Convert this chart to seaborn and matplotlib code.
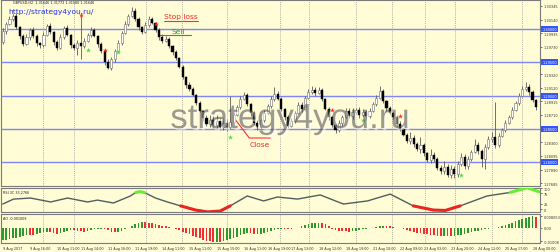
import numpy as np
import pandas as pd
import matplotlib
matplotlib.use("Agg")
import matplotlib.pyplot as plt
import seaborn as sns
from matplotlib import patheffects as pe

sns.set_theme(style="white")
plt.rcParams['font.family'] = ['DejaVu Sans']

# ---------------- data ----------------
first_open = 1.29805
closes = [
    1.29970, 1.30075, 1.30150, 1.30195, 1.30030, 1.29895, 1.29775, 1.29880, 1.29985, 1.29895,
    1.29790, 1.29760, 1.29910, 1.30045, 1.29955, 1.29805, 1.29715, 1.29880, 1.30015, 1.29910,
    1.29760, 1.29715, 1.29790, 1.29745, 1.29820, 1.29910, 1.29985, 1.29895, 1.29775, 1.29670,
    1.29505, 1.29415, 1.29550, 1.29670, 1.29790, 1.29940, 1.30075, 1.30195, 1.30270, 1.30150,
    1.30030, 1.29955, 1.30060, 1.30150, 1.30090, 1.29985, 1.29880, 1.29820, 1.29850, 1.29745,
    1.29655, 1.29565, 1.29430, 1.29280, 1.29160, 1.29100, 1.29010, 1.28890, 1.28770, 1.28665,
    1.28575, 1.28635, 1.28560, 1.28620, 1.28530, 1.28590, 1.28530, 1.28605, 1.28710, 1.28830,
    1.28950, 1.29010, 1.28875, 1.28740, 1.28590, 1.28530, 1.28635, 1.28740, 1.28845, 1.28950,
    1.29025, 1.28950, 1.28800, 1.28680, 1.28545, 1.28620, 1.28740, 1.28860, 1.28800, 1.28965,
    1.29055, 1.29085, 1.29040, 1.29085, 1.28950, 1.28800, 1.28680, 1.28560, 1.28485, 1.28590,
    1.28680, 1.28770, 1.28695, 1.28755, 1.28785, 1.28710, 1.28755, 1.28695, 1.28770, 1.28875,
    1.28965, 1.29070, 1.28920, 1.28815, 1.28740, 1.28680, 1.28575, 1.28500, 1.28410, 1.28320,
    1.28365, 1.28275, 1.28200, 1.28260, 1.28140, 1.28035, 1.28110, 1.28050, 1.27915, 1.27870,
    1.27930, 1.27810, 1.27900, 1.27825, 1.27975, 1.28080, 1.27945, 1.28050, 1.28155, 1.28260,
    1.28170, 1.28050, 1.28230, 1.28350, 1.28380, 1.28260, 1.28395, 1.28485, 1.28590, 1.28680,
    1.28785, 1.28890, 1.28995, 1.29100, 1.29130, 1.29055, 1.28935, 1.28830,
]
wick_up_pips = [
    4, 3, 5, 3, 4, 2, 3, 4, 3, 5,
    3, 2, 4, 3, 5, 2, 3, 4, 3, 4,
    2, 3, 5, 45, 4, 3, 4, 3, 2, 3,
    2, 4, 3, 3, 4, 3, 4, 3, 6, 4,
    3, 2, 4, 5, 3, 2, 3, 4, 5, 3,
    2, 3, 2, 3, 2, 4, 3, 2, 3, 2,
    4, 8, 6, 9, 5, 7, 6, 39, 4, 3,
    4, 5, 3, 2, 3, 4, 3, 4, 3, 5,
    10, 4, 3, 2, 3, 4, 3, 5, 4, 3,
    4, 6, 5, 4, 3, 2, 3, 2, 3, 4,
    3, 5, 4, 6, 3, 5, 4, 3, 4, 3,
    4, 8, 3, 2, 3, 2, 3, 4, 2, 3,
    9, 4, 3, 12, 3, 2, 9, 5, 3, 4,
    9, 4, 6, 5, 4, 6, 5, 4, 3, 9,
    4, 3, 5, 4, 8, 52, 4, 3, 4, 3,
    4, 3, 4, 5, 8, 4, 3, 2,
]
wick_down_pips = [
    3, 4, 2, 3, 3, 4, 3, 2, 4, 3,
    4, 5, 3, 2, 3, 4, 3, 2, 3, 2,
    4, 3, 10, 20, 3, 2, 3, 2, 4, 3,
    4, 2, 3, 4, 2, 3, 2, 3, 2, 3,
    4, 3, 2, 3, 2, 3, 4, 3, 2, 3,
    4, 3, 2, 3, 4, 3, 2, 3, 2, 4,
    3, 5, 4, 6, 5, 4, 6, 3, 4, 2,
    3, 2, 3, 4, 3, 5, 2, 3, 2, 3,
    3, 2, 3, 4, 3, 2, 3, 2, 4, 3,
    2, 3, 4, 2, 3, 2, 4, 3, 5, 3,
    4, 2, 3, 4, 3, 5, 3, 4, 3, 2,
    3, 2, 3, 4, 2, 3, 4, 3, 2, 3,
    4, 5, 3, 6, 4, 3, 5, 4, 3, 5,
    4, 3, 5, 6, 4, 3, 5, 4, 3, 2,
    5, 12, 15, 3, 4, 5, 3, 2, 3, 2,
    3, 2, 3, 2, 3, 4, 3, 4,
]
ao_values = [
    -0.0092, -0.0090, -0.0086, -0.0080, -0.0074, -0.0068, -0.0060, -0.0052, -0.0056, -0.0058,
    -0.0050, -0.0042, -0.0036, -0.0030, -0.0034, -0.0040, -0.0044, -0.0040, -0.0032, -0.0024,
    -0.0016, -0.0020, -0.0024, -0.0026, -0.0030, -0.0026, -0.0020, -0.0014, -0.0010, -0.0008,
    -0.0012, -0.0020, -0.0030, -0.0036, -0.0034, -0.0026, -0.0014, -0.0002, 0.0012, 0.0026,
    0.0036, 0.0042, 0.0038, 0.0034, 0.0030, 0.0026, 0.0020, 0.0014, 0.0010, 0.0004,
    -0.0004, -0.0012, -0.0020, -0.0030, -0.0040, -0.0050, -0.0060, -0.0070, -0.0080, -0.0088,
    -0.0096, -0.0102, -0.0106, -0.0104, -0.0106, -0.0100, -0.0094, -0.0086, -0.0078, -0.0068,
    -0.0058, -0.0048, -0.0040, -0.0042, -0.0046, -0.0048, -0.0047, -0.0042, -0.0036, -0.0028,
    -0.0020, -0.0014, -0.0010, -0.0012, -0.0014, -0.0012, -0.0006, 0.0000, 0.0008, 0.0016,
    0.0024, 0.0030, 0.0034, 0.0036, 0.0032, 0.0024, 0.0012, -0.0008, -0.0016, -0.0022,
    -0.0026, -0.0028, -0.0030, -0.0028, -0.0024, -0.0020, -0.0014, -0.0010, -0.0006, -0.0002,
    0.0004, 0.0010, 0.0014, 0.0012, 0.0008, 0.0004, 0.0000, -0.0006, -0.0012, -0.0020,
    -0.0026, -0.0032, -0.0038, -0.0042, -0.0046, -0.0050, -0.0054, -0.0056, -0.0060, -0.0062,
    -0.0060, -0.0062, -0.0064, -0.0062, -0.0058, -0.0052, -0.0046, -0.0040, -0.0034, -0.0028,
    -0.0022, -0.0018, -0.0014, -0.0008, -0.0004, -0.0001, 0.0004, 0.0012, 0.0020, 0.0028,
    0.0036, 0.0044, 0.0052, 0.0060, 0.0068, 0.0076, 0.0082, 0.0078,
]
rsi_x = [0, 3.2, 8.2, 14.1, 19.1, 25.0, 27.9, 32.6, 37.6, 39.2, 40.5, 41.7, 45.0, 48.5,
         52.4, 56.8, 60.3, 64.0, 67.0, 72.0, 76.8, 80.9, 86.8, 93.5, 100.3, 107.4, 114.1,
         120.9, 126.8, 130.3, 134.7, 142.6, 149.4, 154.4, 158.2]
rsi_values = [24, 48, 53, 34, 53, 34, 43, 29, 63, 80, 84, 80, 53, 34,
              15, -5, -14, -10, 15, 63, 39, 58, 48, 68, 24, 39, 72,
              15, -5, -7, 15, 63, 80, 103, 82]
rsi_low, rsi_high = 15, 80

level_lines = [1.30000, 1.29500, 1.29000, 1.28500, 1.28000]
level_labels = ["1.30000", "1.29500", "1.29000", "1.28500", "1.28000"]
price_ticks = [1.30345, 1.30140, 1.29935, 1.29730, 1.29320, 1.29120,
               1.28915, 1.28710, 1.28300, 1.28095, 1.27890, 1.27685]
rsi_ticks = [100, 75, 25, 0]
ao_ticks = [0.008053, 0.0, -0.01008]
ao_tick_labels = ["0.008053", "0.00", "-0.01008"]
date_ticks = [0, 8, 16, 23, 31, 39, 47, 55, 63, 71, 78, 85, 93, 101, 109, 117, 124, 132, 140, 148, 156]
date_labels = ["9 Aug 2017", "9 Aug 16:00", "10 Aug 11:00", "11 Aug 14:00", "11 Aug 16:00",
               "11 Aug 19:00", "14 Aug 11:00", "15 Aug 11:00", "15 Aug 15:00", "16 Aug 11:00",
               "16 Aug 19:00", "17 Aug 13:00", "18 Aug 12:00", "18 Aug 19:00", "21 Aug 10:00",
               "22 Aug 09:00", "23 Aug 03:00", "23 Aug 20:00", "24 Aug 12:00", "25 Aug 17:00",
               "28 Aug 00:00"]
grid_x = [11.8, 20.9, 42.1, 52.9, 65.9, 81.5, 90.3, 104.1, 114.7, 124.4, 133.2, 144.1, 152.9]
sell_marks_x = [23, 30, 45, 97, 117]
sell_marks_y = [1.30215, 1.29685, 1.30075, 1.28785, 1.28695]
buy_marks_x = [25, 34, 67, 106, 135]
buy_marks_y = [1.29685, 1.29655, 1.28380, 1.28635, 1.27810]

# ---------------- build frames ----------------
n = len(closes)
idx = np.arange(n)
opens = [first_open] + closes[:-1]
df = pd.DataFrame({"idx": idx, "open": opens, "close": closes})
df["top"] = df[["open", "close"]].max(axis=1)
df["bot"] = df[["open", "close"]].min(axis=1)
df["high"] = df["top"] + np.array(wick_up_pips) * 0.0001
df["low"] = df["bot"] - np.array(wick_down_pips) * 0.0001
df["bull"] = df["close"] >= df["open"]
df["h"] = (df["top"] - df["bot"]).clip(lower=0.00005)

BG = "#FFFCD6"
W, H = 560, 253


def box(x0, y0, x1, y1):
    return [x0 / W, 1 - y1 / H, (x1 - x0) / W, (y1 - y0) / H]


fig = plt.figure(figsize=(5.6, 2.53), dpi=100, facecolor=BG)
ax_p = fig.add_axes(box(1, 1, 540, 187))
ax_r = fig.add_axes(box(1, 188.5, 540, 213))
ax_a = fig.add_axes(box(1, 215, 540, 244))

XL = (-0.5, 158.2)
for ax in (ax_p, ax_r, ax_a):
    ax.set_facecolor(BG)
    for s in ax.spines.values():
        s.set_color("#7a7a7a")
        s.set_linewidth(0.8)
    for gx in grid_x:
        ax.axvline(gx, color="#9a9a9a", ls=(0, (1.5, 1.5)), lw=0.5, zorder=1)

# ---------------- price panel ----------------
for lv in level_lines:
    ax_p.axhline(lv, color="#7f86f5", lw=1.0, zorder=1.5)

ax_p.vlines(df["idx"], df["low"], df["high"], color="#5a5a5a", lw=0.6, zorder=2)
b = df[df["bull"]]
s_ = df[~df["bull"]]
ax_p.bar(b["idx"], b["h"], bottom=b["bot"], width=0.62, color="white",
         edgecolor="#6b6b6b", linewidth=0.4, zorder=3)
ax_p.bar(s_["idx"], s_["h"], bottom=s_["bot"], width=0.62, color="black",
         edgecolor="black", linewidth=0.3, zorder=3)

sns.scatterplot(x=sell_marks_x, y=sell_marks_y, marker="*", s=14, color="#ff2a2a",
                linewidth=0, ax=ax_p, zorder=4)
sns.scatterplot(x=buy_marks_x, y=buy_marks_y, marker="*", s=14, color="#3de23d",
                linewidth=0, ax=ax_p, zorder=4)

ax_p.set_xlim(*XL)
ax_p.set_ylim(1.27645, 1.30435)
ax_p.yaxis.tick_right()
ax_p.set_yticks(price_ticks)
ax_p.set_yticklabels([f"{v:.5f}" for v in price_ticks])
ax_p.tick_params(axis="y", labelsize=2.5, length=1.5, pad=1, colors="#333333", width=0.5)
ax_p.set_xticks([])
ax_p.set_xlabel("")
ax_p.set_ylabel("")

for lv, lab in zip(level_lines, level_labels):
    ax_p.text(1.004, lv, lab, transform=ax_p.get_yaxis_transform(), fontsize=2.5,
              color="white", va="center", ha="left", clip_on=False,
              bbox=dict(boxstyle="square,pad=0.25", fc="#3355ff", ec="none"))

# annotations
ax_p.text(3, 1.3040, "GBPUSD,H2  1.31646 1.31773 1.31580 1.31646", fontsize=2.4,
          color="#222222", va="center", ha="left")
ax_p.text(1.6, 1.30272, "http://strategy4you.ru/", fontsize=5.4, color="#2233ee",
          va="center", ha="left")
ax_p.text(47.4, 1.30188, "Stop loss", fontsize=5.4, color="#ff2a2a", va="center", ha="left")
ax_p.plot([47.4, 57.4], [1.3012, 1.3012], color="#ff3030", lw=0.8)
ax_p.text(51.6, 1.29975, "Sell", fontsize=5.4, color="#2e9e2e", va="center", ha="center")
ax_p.plot([45.9, 55.3], [1.2991, 1.2991], color="#2e9e2e", lw=0.8)
ax_p.plot([67.9, 72.6, 78.8], [1.2868, 1.28365, 1.28365], color="#ff3030", lw=0.8)
ax_p.text(75.7, 1.28275, "Close", fontsize=5.4, color="#e83030", va="center", ha="center")

wm = ax_p.text(84.6, 1.28515, "strategy4you.ru", fontsize=25, color="#4a4a4a", alpha=0.55,
               family=["Liberation Sans", "DejaVu Sans"], ha="center", va="baseline", zorder=5)
wm.set_path_effects([pe.withSimplePatchShadow(offset=(1.5, -1.5), shadow_rgbFace="#ffffff", alpha=0.5)])

# ---------------- RSI panel ----------------
rv = np.array(rsi_values, dtype=float)
rx = np.array(rsi_x, dtype=float)
sns.lineplot(x=rx, y=rv, color="#4f5f5f", lw=1.0, ax=ax_r, zorder=3)


def runs(mask):
    out, cur = [], []
    for k, m in enumerate(mask):
        if m:
            cur.append(k)
        elif cur:
            out.append(cur)
            cur = []
    if cur:
        out.append(cur)
    return out


for run in runs(rv <= rsi_low):
    sns.lineplot(x=rx[run], y=rv[run], color="#e8251e", lw=2.2, ax=ax_r, zorder=4)
for run in runs(rv >= rsi_high):
    sns.lineplot(x=rx[run], y=rv[run], color="#66ee33", lw=2.2, ax=ax_r, zorder=4)

ax_r.set_xlim(*XL)
ax_r.set_ylim(-14.5, 104)
ax_r.yaxis.tick_right()
ax_r.set_yticks(rsi_ticks)
ax_r.set_yticklabels([str(v) for v in rsi_ticks])
ax_r.tick_params(axis="y", labelsize=2.5, length=1.5, pad=1, colors="#333333", width=0.5)
ax_r.set_xticks([])
ax_r.set_xlabel("")
ax_r.set_ylabel("")
ax_r.text(0.004, 0.9, "RSI 3C 33.2766", transform=ax_r.transAxes, fontsize=2.4,
          color="#222222", va="top", ha="left")

# ---------------- AO panel ----------------
ao_df = pd.DataFrame({"idx": idx, "ao": ao_values})
d = ao_df["ao"].diff().fillna(1.0)
ao_df["dir"] = np.where(d > 0, "up", "down")
sns.barplot(data=ao_df, x="idx", y="ao", hue="dir",
            palette={"up": "#2e9a2e", "down": "#ee3030"}, native_scale=True,
            dodge=False, width=0.5, errorbar=None, legend=False, saturation=1,
            linewidth=0, ax=ax_a, zorder=3)
ax_a.set_xlim(*XL)
ax_a.set_ylim(-0.01132, 0.00986)
ax_a.yaxis.tick_right()
ax_a.set_yticks(ao_ticks)
ax_a.set_yticklabels(ao_tick_labels)
ax_a.tick_params(axis="y", labelsize=2.5, length=1.5, pad=1, colors="#333333", width=0.5)
ax_a.set_xticks(date_ticks)
ax_a.set_xticklabels(date_labels, ha="left")
ax_a.tick_params(axis="x", labelsize=2.4, length=1.5, pad=1, colors="#333333", width=0.5)
ax_a.set_xlabel("")
ax_a.set_ylabel("")
ax_a.text(0.004, 0.93, "AO -0.001009", transform=ax_a.transAxes, fontsize=2.4,
          color="#222222", va="top", ha="left")

fig.savefig("out.png", dpi=100, facecolor=BG)
